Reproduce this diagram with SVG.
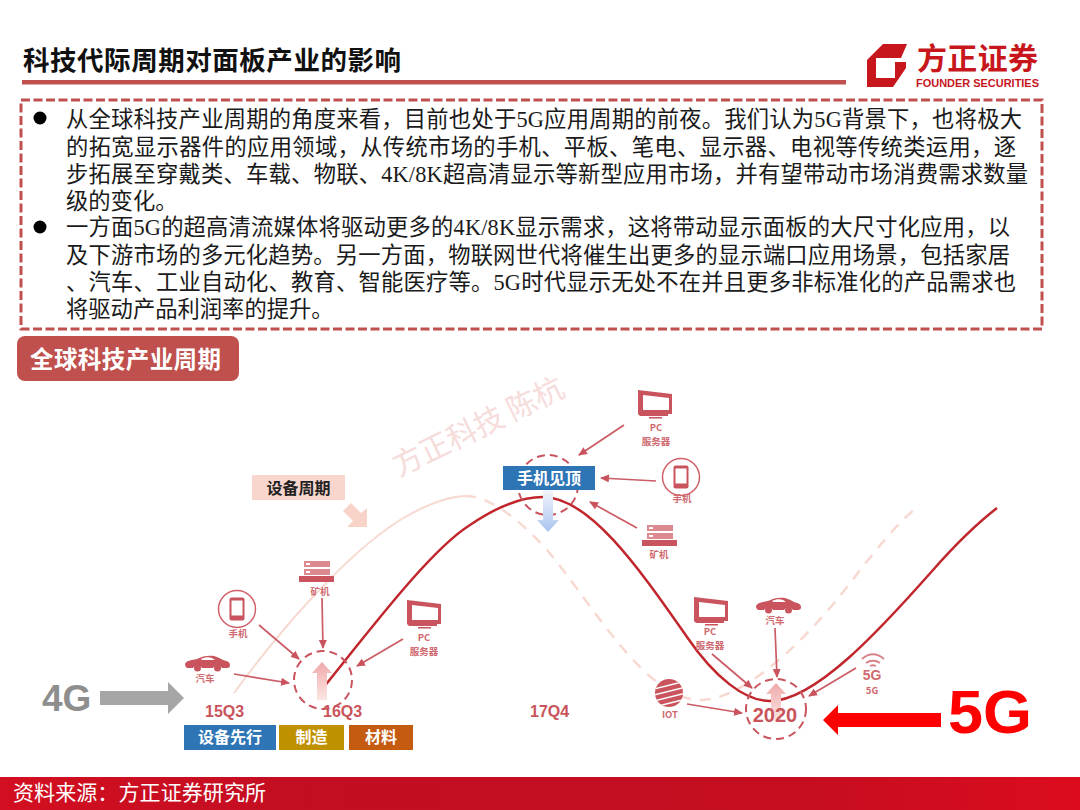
<svg xmlns="http://www.w3.org/2000/svg" xmlns:xlink="http://www.w3.org/1999/xlink" width="1080" height="810" viewBox="0 0 1080 810">
<style>
.body{font-family:"Liberation Serif","Noto Sans CJK SC",serif;font-size:22.3px;fill:#1a1a1a}
.cjk{font-family:"Noto Sans CJK SC","Liberation Sans",sans-serif}
.lat{font-family:"Liberation Sans","Noto Sans CJK SC",sans-serif}
.small{font-family:"Noto Sans CJK SC","Liberation Sans",sans-serif;font-size:9.5px;font-weight:700;fill:#cf6a70;text-anchor:middle}
.q{font-family:"Liberation Sans","Noto Sans CJK SC",sans-serif;font-size:16px;font-weight:700;fill:#c9545b}
.box{font-family:"Noto Sans CJK SC","Liberation Sans",sans-serif;font-size:16px;font-weight:700;fill:#fff;text-anchor:middle}
.conn{fill:none;stroke:#cb5c64;stroke-width:1.7;marker-end:url(#ah)}
.ring{fill:none;stroke:#c9545e;stroke-width:2;stroke-dasharray:8 5}
.ic{fill:#c9545e}
</style>
<defs>
<marker id="ah" markerUnits="userSpaceOnUse" markerWidth="10" markerHeight="10" refX="8" refY="4" orient="auto"><path d="M0 0L9 4L0 8Z" fill="#c9545e"/></marker>
<linearGradient id="up" x1="0" y1="0" x2="0" y2="1"><stop offset="0" stop-color="#f0a9aa"/><stop offset="1" stop-color="#fbe6e4"/></linearGradient>
<linearGradient id="down" x1="0" y1="0" x2="0" y2="1"><stop offset="0" stop-color="#f2f6fd"/><stop offset="1" stop-color="#a9c4ee"/></linearGradient>
<linearGradient id="foot" x1="0" y1="0" x2="1" y2="0"><stop offset="0" stop-color="#d20f20"/><stop offset=".3" stop-color="#c20d22"/><stop offset=".75" stop-color="#c60d20"/><stop offset="1" stop-color="#dc0c1e"/></linearGradient>
<clipPath id="globe"><circle cx="669" cy="693" r="14"/></clipPath>
<g id="monitor"><path class="ic" fill-rule="evenodd" d="M0 0L34 4V24H30V26H2L0 24ZM5 5V20H31V8Z"/><rect class="ic" x="11" y="27" width="13" height="1.500"/></g>
<g id="rack"><rect x="5" y="0" width="26" height="6" fill="#dc8a90"/><rect x="5" y="8" width="26" height="6" fill="#dc8a90"/><rect x="7" y="2" width="4" height="2" fill="#fff"/><rect x="7" y="10" width="4" height="2" fill="#fff"/><rect class="ic" x="0" y="15" width="35" height="6"/></g>
<g id="car"><path class="ic" d="M0 9C1 6 6 5 12 4C17 1 24 0 29 1C33 2 36 4 38 5C42 6 45 7 45 10C45 12 44 13 42 13H37A5 5 0 0 0 28 13H17A5 5 0 0 0 8 13H3C1 13 0 11 0 9Z"/><path fill="#fff" d="M16 4C20 2 24 2 27 3L30 5H17Z"/><circle class="ic" cx="12.500" cy="13" r="3.500"/><circle class="ic" cx="32.500" cy="13" r="3.500"/></g>
<g id="phone"><circle r="18.500" fill="none" stroke="#cf6068" stroke-width="1.500"/><rect x="-7.500" y="-11.500" width="15" height="23" rx="2" class="ic"/><rect x="-5.500" y="-8.500" width="11" height="15" fill="#fff"/></g>
<path id="uparrow" d="M-5 38V11H-10L0 0L10 11H5V38Z"/>
</defs>
<rect width="1080" height="810" fill="#fff"/>

<g id="title"><text class="cjk" x="23" y="70" font-size="26.500" font-weight="700" fill="#111" textLength="378">科技代际周期对面板产业的影响</text><rect x="22" y="80" width="824" height="4.500" fill="#c0504d"/></g>

<g id="logo">
<path fill="#c8161d" d="M883 44H907L901 58H876V78H895V62H906V68L893 87H867V60Z"/>
<text class="cjk" x="917" y="69" font-size="30" font-weight="700" fill="#c8161d" textLength="121">方正证券</text>
<text class="lat" x="916" y="87" font-size="11.500" font-weight="700" fill="#c8161d" textLength="123" lengthAdjust="spacingAndGlyphs">FOUNDER SECURITIES</text>
</g>

<g id="summary">
<rect x="21" y="100" width="1021" height="229" fill="none" stroke="#c0504d" stroke-width="3" stroke-dasharray="9 3.500"/>
<circle cx="40" cy="118" r="6.500" fill="#000"/><circle cx="40" cy="227" r="6.500" fill="#000"/>
<text class="body" x="66" y="127" textLength="956">从全球科技产业周期的角度来看，目前也处于5G应用周期的前夜。我们认为5G背景下，也将极大</text>
<text class="body" x="66" y="155" textLength="950">的拓宽显示器件的应用领域，从传统市场的手机、平板、笔电、显示器、电视等传统类运用，逐</text>
<text class="body" x="66" y="182" textLength="962">步拓展至穿戴类、车载、物联、4K/8K超高清显示等新型应用市场，并有望带动市场消费需求数量</text>
<text class="body" x="66" y="209">级的变化。</text>
<text class="body" x="66" y="235" textLength="944">一方面5G的超高清流媒体将驱动更多的4K/8K显示需求，这将带动显示面板的大尺寸化应用，以</text>
<text class="body" x="66" y="263" textLength="944">及下游市场的多元化趋势。另一方面，物联网世代将催生出更多的显示端口应用场景，包括家居</text>
<text class="body" x="66" y="290" textLength="950">、汽车、工业自动化、教育、智能医疗等。5G时代显示无处不在并且更多非标准化的产品需求也</text>
<text class="body" x="66" y="317">将驱动产品利润率的提升。</text>
</g>

<g id="tag"><rect x="17" y="336" width="222" height="45" rx="8" fill="#c0504d"/><text class="cjk" x="30" y="368" font-size="23.500" font-weight="700" fill="#fff" textLength="191">全球科技产业周期</text></g>

<g id="watermark"><text class="cjk" transform="translate(399 477) rotate(-26)" font-size="30" fill="#f6dcdb">方正科技 陈杭</text></g>

<g id="curves" fill="none">
<path stroke="#f7d9d1" stroke-width="2" d="M234 693C280 630 345 555 400 520C425 505 445 497 465 496"/>
<path stroke="#f7d9d1" stroke-width="2.500" stroke-dasharray="11 9" d="M465 496C490 496 520 520 547 550C590 600 645 700 700 700C750 700 820 625 860 570C880 545 900 520 920 505"/>
<path stroke="#c0262c" stroke-width="2.500" d="M319 693C370 630 430 550 470 525C495 508 520 497 543 497C590 497 640 570 687 637C715 678 745 701 770 701C815 701 880 630 933 570C955 545 975 525 997 508"/>
</g>

<g id="cycle-label"><rect x="252" y="475" width="93" height="25" fill="#f9d6cd"/><text class="cjk" x="298.500" y="494" font-size="16" font-weight="700" fill="#222" text-anchor="middle">设备周期</text><path fill="#f7d3c8" d="M351 503L361 513L367 508V527H347L353 521L343 511Z"/></g>

<g id="lte"><text class="lat" x="42" y="711" font-size="37" font-weight="700" fill="#8e8e8e">4G</text><path fill="#a6a6a6" d="M100 691H168V682L184 698L168 714V705H100Z"/></g>

<g id="peak16"><use xlink:href="#uparrow" href="#uparrow" x="322" y="662" fill="url(#up)"/><circle class="ring" cx="323" cy="680" r="29"/></g>
<g id="miner1"><use href="#rack" xlink:href="#rack" x="299" y="561"/><text class="small" x="320" y="595">矿机</text></g>
<g id="phone1"><use href="#phone" xlink:href="#phone" x="237" y="609"/><text class="small" x="238" y="637">手机</text></g>
<g id="car1"><use href="#car" xlink:href="#car" x="185" y="655"/><text class="small" x="205" y="682">汽车</text></g>
<g id="pc1"><use href="#monitor" xlink:href="#monitor" x="407" y="600"/><text class="small" x="424" y="641">PC</text><text class="small" x="424" y="655">服务器</text></g>

<g id="q-labels"><text class="q" x="205" y="717">15Q3</text><text class="q" x="323" y="717">16Q3</text><text class="q" x="530" y="717">17Q4</text></g>
<g id="stage1"><rect x="184" y="725" width="92" height="25" fill="#2e75b6"/><text class="box" x="230" y="743">设备先行</text></g>
<g id="stage2"><rect x="279" y="725" width="65" height="25" fill="#bf9000"/><text class="box" x="311.500" y="743">制造</text></g>
<g id="stage3"><rect x="349" y="725" width="64" height="25" fill="#c55a11"/><text class="box" x="381" y="743">材料</text></g>

<g id="peak"><circle class="ring" cx="548" cy="485" r="30"/><path fill="url(#down)" d="M543 490H553V520H559L548 532L537 520H543Z"/><rect x="503" y="466" width="92" height="24" fill="#2e75b6"/><text class="box" x="549" y="484">手机见顶</text></g>
<g id="pc2"><use href="#monitor" xlink:href="#monitor" x="638" y="390"/><text class="small" x="656" y="431">PC</text><text class="small" x="656" y="445">服务器</text></g>
<g id="phone2"><use href="#phone" xlink:href="#phone" x="681" y="477"/><text class="small" x="682" y="502">手机</text></g>
<g id="miner2"><use href="#rack" xlink:href="#rack" x="642" y="525"/><text class="small" x="659" y="558">矿机</text></g>

<g id="trough"><use href="#uparrow" xlink:href="#uparrow" x="776" y="683" fill="url(#up)"/><circle class="ring" cx="776" cy="709" r="30"/><text class="lat" x="775" y="722" font-size="20" font-weight="700" fill="#c9545b" text-anchor="middle">2020</text></g>
<g id="pc3"><use href="#monitor" xlink:href="#monitor" x="694" y="597"/><text class="small" x="710" y="635">PC</text><text class="small" x="710" y="649">服务器</text></g>
<g id="car2"><use href="#car" xlink:href="#car" x="756" y="597"/><text class="small" x="775" y="624">汽车</text></g>
<g id="fiveg-icon"><path fill="none" stroke="#d9808a" stroke-width="1.800" d="M862 659C869 653 877 653 884 659M866 663C870 660 876 660 880 663M870 666C872 665 874 665 876 666"/><text class="lat" x="872" y="680" font-size="14" font-weight="700" fill="#cf6a70" text-anchor="middle">5G</text><text class="lat small" x="872" y="694">5G</text></g>
<g id="iot"><circle cx="669" cy="693" r="14" fill="#c9545e"/><g clip-path="url(#globe)" stroke="#fff" stroke-width="1.600"><path d="M650 690L690 680M650 696L690 686M650 702L690 692M650 708L690 698"/></g><text class="lat small" x="670" y="718">IOT</text></g>

<g id="connectors">
<path class="conn" d="M322 598L323 648"/>
<path class="conn" d="M259 625L299 659"/>
<path class="conn" d="M234 674L289 683"/>
<path class="conn" d="M403 639L357 666"/>
<path class="conn" d="M624 425L579 455"/>
<path class="conn" d="M656 481L601 478"/>
<path class="conn" d="M637 528L590 502"/>
<path class="conn" d="M712 654L752 688"/>
<path class="conn" d="M775 628L777 677"/>
<path class="conn" d="M856 668L809 696"/>
<path class="conn" d="M687 704L742 713"/>
</g>

<g id="nr"><path fill="#f00" d="M823 720L838 705V713H941V727H838V735Z"/><text class="lat" x="948" y="733" font-size="61" font-weight="700" fill="#f00" textLength="84" lengthAdjust="spacingAndGlyphs">5G</text></g>

<g id="footer"><rect y="777" width="1080" height="33" fill="url(#foot)"/><text class="cjk" x="13" y="800" font-size="21" fill="#fff" textLength="253">资料来源：方正证券研究所</text></g>
</svg>
